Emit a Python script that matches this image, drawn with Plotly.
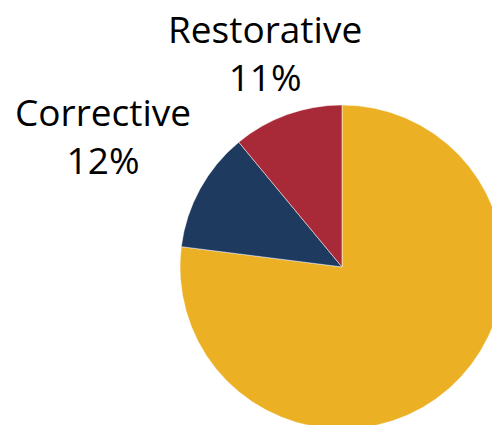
import math
import plotly.graph_objects as go

labels = ["Preventive", "Corrective", "Restorative"]
values = [77, 12, 11]
colors = ["#EBB023", "#1F3A5F", "#A82A38"]

W, H = 500, 425
FS = 37
dom_x = [0.344, 0.992]
dom_y = [0.0094, 0.772]

fig = go.Figure(go.Pie(
    labels=labels,
    values=values,
    marker=dict(colors=colors, line=dict(color="white", width=0.5)),
    sort=False,
    direction="clockwise",
    rotation=0,
    textinfo="none",
    hoverinfo="label+percent",
    showlegend=False,
    domain=dict(x=dom_x, y=dom_y),
))

# pie geometry in pixels (derived from the domain)
bw = (dom_x[1] - dom_x[0]) * W
bh = (dom_y[1] - dom_y[0]) * H
r = min(bw, bh) / 2
cx = (dom_x[0] + dom_x[1]) / 2 * W
cy = (1 - (dom_y[0] + dom_y[1]) / 2) * H

total = sum(values)
cum = 0.0
annotations = []
for lab, val in zip(labels, values):
    frac = val / total
    mid = (cum + frac / 2) * 2 * math.pi  # clockwise from top
    cum += frac
    sx, sy = math.sin(mid), -math.cos(mid)  # screen direction (y down)
    hw = len(lab) * 0.475 * FS / 2
    hh = 40
    d = r + 10 + 1.2 * hw * abs(sx) + 0.45 * hh * abs(sy)
    px = cx + d * sx
    py = cy + d * sy
    if not (0 <= px <= W and 0 <= py <= H):
        continue
    annotations.append(dict(
        x=px / W, y=1 - py / H, xref="paper", yref="paper",
        text=f"{lab}<br>{round(frac * 100)}%",
        showarrow=False, xanchor="center", yanchor="middle",
        borderpad=0,
        font=dict(family="Open Sans", size=FS, color="black"),
    ))

fig.update_layout(
    width=W, height=H,
    margin=dict(l=0, r=0, t=0, b=0),
    paper_bgcolor="white",
    plot_bgcolor="white",
    annotations=annotations,
)

fig.write_html("out.html")
